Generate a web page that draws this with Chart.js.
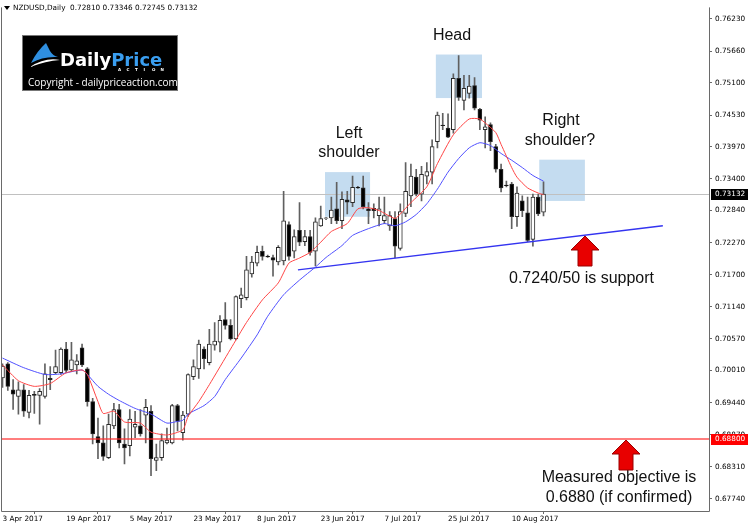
<!DOCTYPE html>
<html>
<head>
<meta charset="utf-8">
<script src="https://cdn.jsdelivr.net/npm/chart.js@4.4.0/dist/chart.umd.min.js"></script>
<style>
  html, body { margin: 0; padding: 0; background: #fff; }
  #wrap { width: 750px; height: 528px; }
</style>
</head>
<body>
<div id="wrap"><canvas id="chart" width="750" height="528"></canvas></div>
<script>
// NZDUSD daily candles, one per bar index (0 = 3 Apr 2017)
const opens = [0.6988,0.7013,0.6967,0.6955,0.6967,0.6927,0.6959,0.6957,0.6955,0.6987,
  0.6997,0.6997,0.7039,0.7002,0.7011,0.7041,0.7004,0.6946,0.6884,0.6873,
  0.6847,0.6903,0.6932,0.6871,0.6868,0.6901,0.6903,0.6922,0.6929,0.6842,
  0.6847,0.6873,0.6873,0.6939,0.6891,0.6924,0.6990,0.7004,0.7039,0.7015,
  0.7046,0.7051,0.7091,0.7081,0.7057,0.7128,0.7130,0.7172,0.7191,0.7212,
  0.7203,0.7201,0.7193,0.7195,0.7259,0.7212,0.7249,0.7229,0.7238,0.7212,
  0.7257,0.7270,0.7271,0.7287,0.7266,0.7303,0.7298,0.7325,0.7324,0.7287,
  0.7288,0.7275,0.7266,0.7257,0.7270,0.7217,0.7279,0.7310,0.7343,0.7313,
  0.7345,0.7352,0.7406,0.7435,0.7430,0.7427,0.7518,0.7479,0.7491,0.7505,
  0.7463,0.7427,0.7436,0.7397,0.7357,0.7329,0.7331,0.7273,0.7301,0.7280,
  0.7233,0.7308,0.72810];
const highs = [0.7013,0.7015,0.6985,0.6981,0.6976,0.6966,0.6964,0.6969,0.7013,0.7008,
  0.7037,0.7041,0.7051,0.7051,0.7029,0.7048,0.7006,0.6952,0.6917,0.6903,
  0.6924,0.6943,0.6941,0.6898,0.6932,0.6929,0.6932,0.6950,0.6939,0.6871,
  0.6889,0.6899,0.6941,0.6941,0.6929,0.6995,0.7020,0.7055,0.7043,0.7074,
  0.7086,0.7098,0.7121,0.7091,0.7133,0.7147,0.7203,0.7203,0.7221,0.7221,
  0.7205,0.7205,0.7222,0.7318,0.7264,0.7250,0.7298,0.7249,0.7249,0.7271,
  0.7292,0.7272,0.7308,0.7334,0.7317,0.7318,0.7345,0.7327,0.7345,0.7298,
  0.7296,0.7308,0.7308,0.7282,0.7282,0.7296,0.7369,0.7366,0.7357,0.7362,
  0.7369,0.7409,0.7458,0.7456,0.7455,0.7526,0.7558,0.7523,0.7523,0.7519,
  0.7465,0.7450,0.7439,0.7401,0.7366,0.7336,0.7334,0.7326,0.7310,0.7308,
  0.7313,0.7313,0.73346];
const lows = [0.6971,0.6966,0.6932,0.6924,0.6920,0.6917,0.6925,0.6906,0.6952,0.6967,
  0.6995,0.6994,0.6997,0.6999,0.6995,0.7008,0.6938,0.6871,0.6845,0.6842,
  0.6845,0.6898,0.6864,0.6836,0.6850,0.6882,0.6885,0.6873,0.6815,0.6824,
  0.6842,0.6871,0.6871,0.6894,0.6878,0.6920,0.6985,0.6987,0.7004,0.7011,
  0.7037,0.7034,0.7074,0.7055,0.7055,0.7112,0.7126,0.7166,0.7186,0.7196,
  0.7201,0.7168,0.7188,0.7188,0.7196,0.7200,0.7222,0.7222,0.7205,0.7186,
  0.7256,0.7268,0.7261,0.7261,0.7252,0.7278,0.7291,0.7323,0.7287,0.7261,
  0.7271,0.7257,0.7261,0.7249,0.7200,0.7214,0.7273,0.7291,0.7310,0.7301,
  0.7331,0.7331,0.7395,0.7427,0.7413,0.7421,0.7479,0.7462,0.7483,0.7462,
  0.7427,0.7395,0.7390,0.7352,0.7317,0.7326,0.7252,0.7256,0.7273,0.7229,
  0.7221,0.7275,0.72745];
const closes = [0.7009,0.6973,0.6959,0.6967,0.6929,0.6957,0.6957,0.6964,0.6995,0.6985,
  0.7008,0.7039,0.7001,0.7020,0.7018,0.7011,0.6946,0.6889,0.6873,0.6849,
  0.6906,0.6932,0.6873,0.6864,0.6915,0.6906,0.6889,0.6936,0.6845,0.6847,
  0.6877,0.6878,0.6939,0.6911,0.6922,0.6994,0.7008,0.7048,0.7022,0.7048,
  0.7053,0.7090,0.7081,0.7057,0.7132,0.7135,0.7179,0.7193,0.7210,0.7203,
  0.7202,0.7196,0.7219,0.7266,0.7203,0.7238,0.7228,0.7238,0.7210,0.7264,
  0.7270,0.7271,0.7285,0.7266,0.7304,0.7299,0.7325,0.7324,0.7291,0.7284,
  0.7284,0.7287,0.7275,0.7275,0.7221,0.7282,0.7318,0.7345,0.7313,0.7348,
  0.7353,0.7397,0.7453,0.7434,0.7414,0.7518,0.7484,0.7500,0.7504,0.7465,
  0.7444,0.7432,0.7406,0.7357,0.7324,0.7328,0.7273,0.7315,0.7284,0.7231,
  0.7308,0.7278,0.73132];

// moving averages: [bar, price]
const fastMA = [[0,0.7011],[3,0.6983],[6,0.6973],[9,0.6978],[12,0.6997],[15,0.7002],[16,0.6994],
  [18,0.6946],[19,0.6925],[21,0.6929],[23,0.6910],[26,0.6908],[28,0.6892],[31,0.6887],[34,0.6896],
  [35,0.6920],[37,0.6946],[39,0.6976],[43,0.7039],[46,0.7086],[49,0.7126],[52,0.7156],[54,0.7191],
  [56,0.7200],[58,0.7210],[60,0.7228],[62,0.7247],[65,0.7261],[67,0.7287],[69,0.7289],[71,0.7284],
  [74,0.7270],[75,0.7278],[77,0.7298],[80,0.7326],[82,0.7367],[85,0.7418],[88,0.7446],[90,0.7446],
  [91,0.7439],[93,0.7422],[94,0.7401],[96,0.7360],[97,0.7343],[99,0.7324],[101,0.7315],[102,0.7312]];
const slowMA = [[0,0.7023],[4,0.7006],[8,0.6994],[11,0.6995],[15,0.7002],[16,0.6994],[18,0.6973],
  [20,0.6959],[22,0.6948],[25,0.6934],[28,0.6924],[31,0.6908],[33,0.6911],[34,0.6913],[35,0.6924],
  [38,0.6939],[40,0.6955],[42,0.6985],[45,0.7023],[48,0.7064],[50,0.7097],[53,0.7135],[56,0.7161],
  [59,0.7184],[61,0.7201],[64,0.7222],[66,0.7240],[69,0.7252],[72,0.7261],[74,0.7257],[76,0.7264],
  [78,0.7277],[80,0.7296],[82,0.7322],[84,0.7352],[86,0.7376],[88,0.7395],[90,0.7404],[92,0.7399],
  [94,0.7385],[96,0.7373],[98,0.7360],[100,0.7346],[102,0.7336]];

const trendLine = [[55.7,0.7179],[124.5,0.7257]];
const lastPrice = 0.73132;
const targetPrice = 0.688;

// shaded pattern zones: [fromBar, toBar, topPrice, bottomPrice]
const zones = [[60.8,69.3,0.7352,0.7273],[81.7,90.4,0.7560,0.7483],[101.2,109.8,0.7374,0.7301]];

const dateLabels = ['3 Apr 2017','19 Apr 2017','5 May 2017','23 May 2017','8 Jun 2017',
  '23 Jun 2017','7 Jul 2017','25 Jul 2017','10 Aug 2017'];
const labelEvery = 12;
const priceTicks = [0.7623,0.7566,0.7510,0.7453,0.7397,0.7340,0.7284,0.7227,0.7170,0.7114,
  0.7057,0.7001,0.6944,0.6887,0.6831,0.6774];

const idx = opens.map((o, i) => i);
const tickFont = { family: 'DejaVu Sans', size: 7.3 };

function arrow(ctx, cx, tipY) {
  ctx.beginPath();
  ctx.moveTo(cx, tipY);
  ctx.lineTo(cx + 14, tipY + 14);
  ctx.lineTo(cx + 7, tipY + 14);
  ctx.lineTo(cx + 7, tipY + 30);
  ctx.lineTo(cx - 7, tipY + 30);
  ctx.lineTo(cx - 7, tipY + 14);
  ctx.lineTo(cx - 14, tipY + 14);
  ctx.closePath();
  ctx.fillStyle = '#e80000';
  ctx.fill();
  ctx.strokeStyle = '#9a0000';
  ctx.lineWidth = 1;
  ctx.stroke();
}

const overlay = {
  id: 'overlay',
  beforeDatasetsDraw(chart) {
    const { ctx, chartArea: a, scales: { x, y } } = chart;
    ctx.save();
    ctx.fillStyle = '#c4dcf0';
    zones.forEach(z => {
      const x0 = x.getPixelForValue(z[0]), x1 = x.getPixelForValue(z[1]);
      const y0 = y.getPixelForValue(z[2]), y1 = y.getPixelForValue(z[3]);
      ctx.fillRect(x0, y0, x1 - x0, y1 - y0);
    });
    const py = Math.round(y.getPixelForValue(lastPrice));
    ctx.fillStyle = '#c0c0c0';
    ctx.fillRect(a.left, py, a.right - a.left, 1);
    ctx.restore();
  },
  afterDatasetsDraw(chart) {
    const { ctx, chartArea: a, scales: { y } } = chart;
    const py = y.getPixelForValue(targetPrice);
    ctx.save();
    ctx.strokeStyle = 'rgba(255,40,40,0.8)';
    ctx.lineWidth = 1.6;
    ctx.beginPath();
    ctx.moveTo(a.left, py);
    ctx.lineTo(a.right, py);
    ctx.stroke();
    ctx.restore();
  },
  afterDraw(chart) {
    const { ctx, chartArea: a, scales: { y } } = chart;
    ctx.save();
    // frame
    ctx.strokeStyle = '#6a6a6a';
    ctx.lineWidth = 1;
    ctx.beginPath();
    ctx.moveTo(a.left + 0.5, a.top);
    ctx.lineTo(a.left + 0.5, a.bottom + 0.5);
    ctx.lineTo(a.right + 0.5, a.bottom + 0.5);
    ctx.lineTo(a.right + 0.5, a.top);
    ctx.stroke();

    // price tags on the axis
    ctx.font = '7.3px "DejaVu Sans"';
    ctx.textBaseline = 'middle';
    ctx.textAlign = 'left';
    [[lastPrice, '#000000'], [targetPrice, '#ff0000']].forEach(([v, c]) => {
      const py = Math.round(y.getPixelForValue(v));
      ctx.fillStyle = c;
      ctx.fillRect(a.right + 2, py - 5, 37, 11);
      ctx.fillStyle = '#ffffff';
      ctx.fillText(v.toFixed(5), a.right + 6, py + 0.5);
    });

    // title
    ctx.fillStyle = '#000';
    ctx.beginPath();
    ctx.moveTo(4, 6); ctx.lineTo(10, 6); ctx.lineTo(7, 10); ctx.closePath();
    ctx.fill();
    ctx.fillText('NZDUSD,Daily  0.72810 0.73346 0.72745 0.73132', 13, 8);

    // logo
    ctx.fillStyle = '#000';
    ctx.fillRect(22, 35, 156, 56);
    ctx.strokeStyle = '#777';
    ctx.strokeRect(22.5, 35.5, 155, 55);
    ctx.fillStyle = '#2f8fe0';
    ctx.beginPath();
    ctx.moveTo(31, 63);
    ctx.quadraticCurveTo(37, 51, 46, 43);
    ctx.lineTo(50, 51);
    ctx.quadraticCurveTo(53, 56, 58, 57);
    ctx.quadraticCurveTo(43, 56, 31, 63);
    ctx.fill();
    ctx.fillStyle = '#ffffff';
    ctx.beginPath();
    ctx.moveTo(30, 67);
    ctx.quadraticCurveTo(45, 57, 60, 60);
    ctx.quadraticCurveTo(46, 61, 30, 67);
    ctx.fill();
    ctx.font = 'bold 18px "DejaVu Sans"';
    ctx.textBaseline = 'alphabetic';
    ctx.fillStyle = '#ffffff';
    ctx.fillText('Daily', 60, 66);
    const dw = ctx.measureText('Daily').width;
    ctx.fillStyle = '#3a9ef0';
    ctx.fillText('Price', 60 + dw, 66);
    ctx.font = 'bold 4px "DejaVu Sans"';
    ctx.fillStyle = '#ffffff';
    'ACTION'.split('').forEach((ch, k) => ctx.fillText(ch, 118 + k * 8.5, 71));
    ctx.font = '10px "Open Sans"';
    ctx.fillText('Copyright - dailypriceaction.com', 28, 86);

    // annotations
    ctx.fillStyle = '#111';
    ctx.font = '16px "Liberation Sans"';
    ctx.textBaseline = 'middle';
    ctx.textAlign = 'center';
    ctx.fillText('Left', 349, 134);
    ctx.fillText('shoulder', 349, 153);
    ctx.fillText('Head', 452, 36);
    ctx.fillText('Right', 561, 121);
    ctx.fillText('shoulder?', 560, 141);
    ctx.fillText('Measured objective is', 619, 478);
    ctx.fillText('0.6880 (if confirmed)', 619, 498);
    ctx.textAlign = 'left';
    ctx.fillText('0.7240/50 is support', 509, 279);

    arrow(ctx, 585, 236);
    arrow(ctx, 626, 440);
    ctx.restore();
  }
};

new Chart(document.getElementById('chart'), {
  type: 'bar',
  data: {
    datasets: [
      {
        type: 'line', label: 'fast', data: fastMA.map(p => ({ x: p[0], y: p[1] })),
        borderColor: '#ff4545', borderWidth: 1, pointRadius: 0, tension: 0.2, order: 0
      },
      {
        type: 'line', label: 'slow', data: slowMA.map(p => ({ x: p[0], y: p[1] })),
        borderColor: '#5050ff', borderWidth: 1, pointRadius: 0, tension: 0.2, order: 0
      },
      {
        type: 'line', label: 'trend', data: trendLine.map(p => ({ x: p[0], y: p[1] })),
        borderColor: '#3434f0', borderWidth: 1.4, pointRadius: 0, order: 0
      },
      {
        label: 'wicks', data: idx.map(i => ({ x: i, y: [lows[i], highs[i]] })),
        backgroundColor: '#606060', barThickness: 1, grouped: false, order: 2
      },
      {
        label: 'bodies', data: idx.map(i => ({ x: i, y: [opens[i], closes[i]] })),
        backgroundColor: idx.map(i => closes[i] >= opens[i] ? '#ffffff' : '#000000'),
        borderColor: '#2a2a2a', borderWidth: 1, borderSkipped: false,
        barThickness: 4, grouped: false, order: 1
      }
    ]
  },
  options: {
    responsive: false,
    animation: false,
    devicePixelRatio: 1,
    layout: { padding: { left: 1, top: 1, right: 0, bottom: 0 } },
    plugins: { legend: { display: false }, tooltip: { enabled: false } },
    scales: {
      x: {
        type: 'linear', min: -0.283, max: 133.2, offset: false,
        afterFit: s => { s.height = 17; },
        afterBuildTicks: s => { s.ticks = dateLabels.map((l, k) => ({ value: k * labelEvery })); },
        grid: { drawOnChartArea: false, drawTicks: true, tickLength: 3, color: '#6a6a6a' },
        border: { display: false },
        ticks: {
          autoSkip: false, maxRotation: 0, align: 'start', padding: 1, color: '#000', font: tickFont,
          callback: v => dateLabels[Math.round(v / labelEvery)]
        }
      },
      y: {
        position: 'right', min: 0.67525, max: 0.76434,
        afterFit: s => { s.width = 41; },
        afterBuildTicks: s => { s.ticks = priceTicks.map(v => ({ value: v })); },
        grid: { drawOnChartArea: false, drawTicks: true, tickLength: 3, color: '#6a6a6a' },
        border: { display: false },
        ticks: { padding: 3, color: '#000', font: tickFont, callback: v => v.toFixed(5) }
      }
    }
  },
  plugins: [overlay]
});
</script>
</body>
</html>
